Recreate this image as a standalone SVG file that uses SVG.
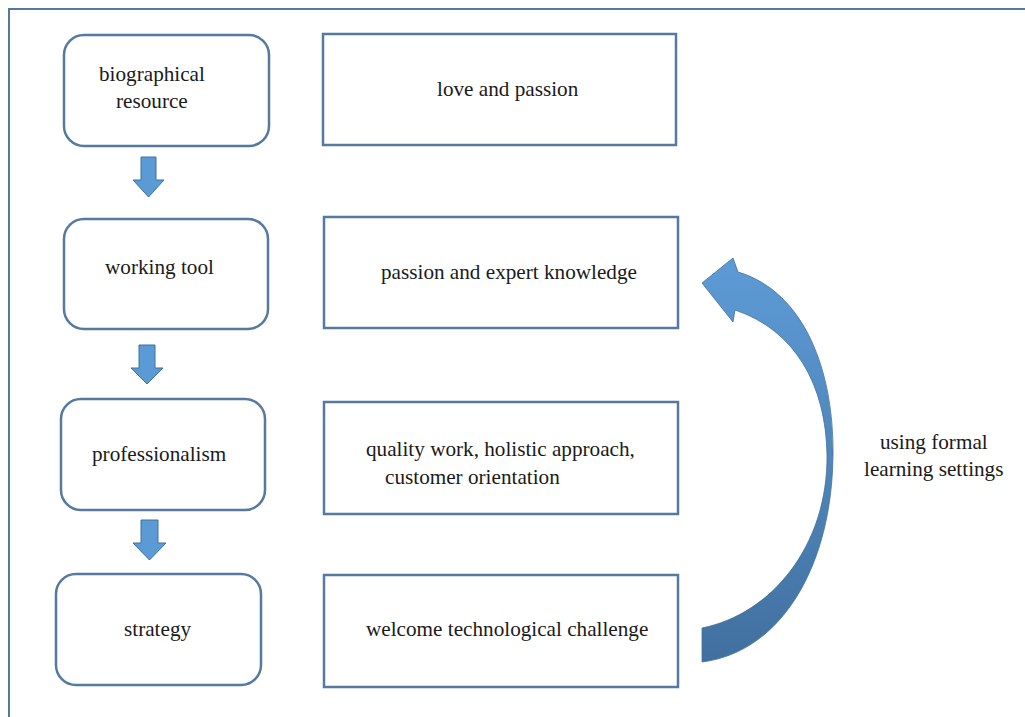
<svg xmlns="http://www.w3.org/2000/svg" width="1025" height="717" viewBox="0 0 1025 717">
<defs>
<linearGradient id="cg" x1="0" y1="0" x2="0" y2="1">
<stop offset="0" stop-color="#5d9bd6"/>
<stop offset="1" stop-color="#41709f"/>
</linearGradient>
<style>
.rb{fill:#fff;stroke:#56799f;stroke-width:2.5}
.t{font-family:"Liberation Serif","Times New Roman",serif;font-size:21.2px;fill:#1a1a1a}
.da{fill:#5b9bd5;stroke:#41719c;stroke-width:1}
</style>
</defs>
<rect width="1025" height="717" fill="#fff"/>
<path d="M9,717 V9 H1025" fill="none" stroke="#56799f" stroke-width="2"/>
<g id="n1"><rect class="rb" x="64" y="35" width="205" height="111" rx="20"/><text class="t" x="99" y="81">biographical</text><text class="t" x="116" y="108">resource</text></g>
<g id="n2"><rect class="rb" x="64" y="219" width="204" height="110" rx="20"/><text class="t" x="105" y="274">working tool</text></g>
<g id="n3"><rect class="rb" x="61" y="399" width="204" height="111" rx="20"/><text class="t" x="92" y="461">professionalism</text></g>
<g id="n4"><rect class="rb" x="56" y="574" width="205" height="111" rx="20"/><text class="t" x="124" y="636">strategy</text></g>
<g id="r1"><rect class="rb" x="323" y="34" width="353" height="111"/><text class="t" x="437" y="96">love and passion</text></g>
<g id="r2"><rect class="rb" x="324" y="217" width="354" height="111"/><text class="t" x="381" y="279">passion and expert knowledge</text></g>
<g id="r3"><rect class="rb" x="324" y="402" width="354" height="112"/><text class="t" x="366" y="456">quality work, holistic approach,</text><text class="t" x="385" y="484">customer orientation</text></g>
<g id="r4"><rect class="rb" x="324" y="575" width="354" height="112"/><text class="t" x="366" y="636">welcome technological challenge</text></g>
<g id="label"><text class="t" x="880" y="449">using formal</text><text class="t" x="864" y="476">learning settings</text></g>
<g id="connectors">
<path class="da" d="M141,157 H156 V180 H164 L148.5,197 L133,180 H141 Z"/>
<path class="da" d="M139,345 H155 V368 H163 L147,384 L131,368 H139 Z"/>
<path class="da" d="M141,520 H158 V543 H166 L149.5,560 L133,543 H141 Z"/>
<path d="M702,628 C772,614 828,545 827,455 C826,385 795,330 735,310 L733,322 L702,283 L733,258 L738,272 C805,292 834,372 833,455 C832,565 782,652 702,662 Z" fill="url(#cg)" stroke="#41719c" stroke-width="0.8"/>
</g>
</svg>
